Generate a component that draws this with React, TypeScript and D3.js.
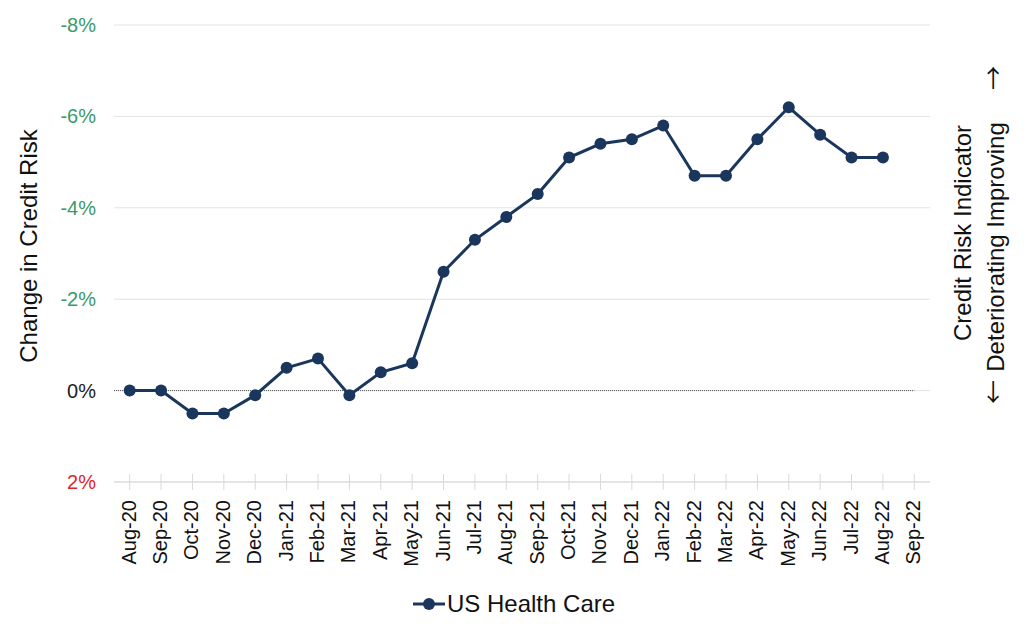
import React from "react";
import * as d3 from "d3";

const categories = ["Aug-20","Sep-20","Oct-20","Nov-20","Dec-20","Jan-21","Feb-21","Mar-21","Apr-21","May-21","Jun-21","Jul-21","Aug-21","Sep-21","Oct-21","Nov-21","Dec-21","Jan-22","Feb-22","Mar-22","Apr-22","May-22","Jun-22","Jul-22","Aug-22","Sep-22"];
const values: (number | null)[] = [0, 0, 0.5, 0.5, 0.1, -0.5, -0.7, 0.1, -0.4, -0.6, -2.6, -3.3, -3.8, -4.3, -5.1, -5.4, -5.5, -5.8, -4.7, -4.7, -5.5, -6.2, -5.6, -5.1, -5.1, null];
const yTicks = [-8, -6, -4, -2, 0, 2];
const seriesName = "US Health Care";

const W = 1024, H = 640;
const left = 114, right = 930, top = 25, bottom = 482;
const font = "Liberation Sans, Arial, sans-serif";
const navy = "#1b365d";

export default function App() {
  const x = d3.scaleBand<string>().domain(categories).range([left, right]).padding(0);
  const y = d3.scaleLinear().domain([-8, 2]).range([top, bottom]);
  const cx = (c: string) => (x(c) as number) + x.bandwidth() / 2;
  const pts = categories.map((c, i) => ({ c, v: values[i] })).filter(d => d.v !== null) as { c: string; v: number }[];
  const line = d3.line<{ c: string; v: number }>().x(d => cx(d.c)).y(d => y(d.v));
  const tickColor = (t: number) => (t < 0 ? "#3a9a6a" : t > 0 ? "#e0262b" : "#222");
  return (
    <svg width={W} height={H} style={{ position: "absolute", left: 0, top: 0, background: "#fff" }} fontFamily={font}>
      {yTicks.map(t => (
        <g key={t}>
          <line x1={left} x2={right} y1={y(t)} y2={y(t)} stroke="#e3e3e3" strokeWidth={1} />
          <text x={96} y={y(t)} dy="0.35em" textAnchor="end" fontSize={20} fill={tickColor(t)}>{t}%</text>
        </g>
      ))}
      <line x1={left} x2={cx(categories[categories.length - 1])} y1={y(0)} y2={y(0)} stroke="#555" strokeWidth={1} strokeDasharray="1,1" />
      <line x1={left} x2={right} y1={bottom} y2={bottom} stroke="#d9d9d9" strokeWidth={1} />
      {categories.map(c => (
        <g key={c}>
          <line x1={cx(c)} x2={cx(c)} y1={bottom - 8} y2={bottom + 8} stroke="#d9d9d9" />
          <text transform={`translate(${cx(c) + 6},${bottom + 18}) rotate(-90)`} textAnchor="end" fontSize={20} fill="#111">{c}</text>
        </g>
      ))}
      <path d={line(pts) || ""} fill="none" stroke={navy} strokeWidth={3} />
      {pts.map(d => (
        <circle key={d.c} cx={cx(d.c)} cy={y(d.v)} r={6} fill={navy} />
      ))}
      <text transform={`translate(37,246) rotate(-90)`} textAnchor="middle" fontSize={24} fill="#111">Change in Credit Risk</text>
      <text transform={`translate(971,233) rotate(-90)`} textAnchor="middle" fontSize={24} fill="#111">Credit Risk Indicator</text>
      <text transform={`translate(1004,247) rotate(-90)`} textAnchor="middle" fontSize={24} fill="#111">Deteriorating Improving</text>
      <text transform={`translate(1002,78) rotate(-90)`} textAnchor="middle" fontSize={24} fontFamily="Noto Sans CJK JP" fill="#111">{"\u2192"}</text>
      <text transform={`translate(1002,392) rotate(-90)`} textAnchor="middle" fontSize={24} fontFamily="Noto Sans CJK JP" fill="#111">{"\u2190"}</text>
      <g>
        <line x1={413} x2={445} y1={604} y2={604} stroke={navy} strokeWidth={3} />
        <circle cx={429} cy={604} r={6} fill={navy} />
        <text x={447} y={604} dy="0.35em" fontSize={24} fill="#111">{seriesName}</text>
      </g>
    </svg>
  );
}
